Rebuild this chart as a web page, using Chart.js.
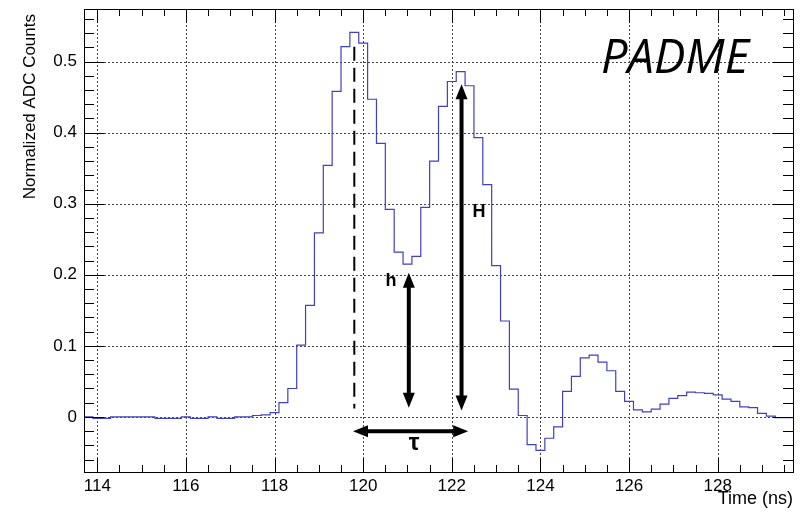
<!DOCTYPE html>
<html>
<head>
<meta charset="utf-8">
<script src="https://cdn.jsdelivr.net/npm/chart.js@4.4.1/dist/chart.umd.min.js"></script>
<style>
  html, body { margin: 0; padding: 0; background: #fff; }
  canvas { display: block; }
</style>
</head>
<body>
<canvas id="pulse" width="803" height="512"></canvas>
<script>
// histogram binning (ns)
const binStart = 113.7;
const binWidth = 0.2;

// normalized ADC counts per bin, 113.8 ... 129.6 ns
const counts = [
  0.000, -0.002, -0.002, 0.000, 0.000, 0.000, 0.000, 0.000, -0.002, -0.002,
  -0.002, 0.000, -0.002, -0.002, 0.000, -0.002, -0.002, 0.000, 0.000,
  0.002, 0.003, 0.006, 0.020, 0.040, 0.101, 0.157, 0.259, 0.354, 0.458,
  0.521, 0.541, 0.526, 0.447, 0.385, 0.292, 0.232, 0.215, 0.226, 0.295,
  0.360, 0.437, 0.472, 0.486, 0.466, 0.393, 0.327, 0.213, 0.135, 0.039,
  0.002, -0.039, -0.047, -0.030, -0.014, 0.036, 0.057, 0.083, 0.087, 0.077,
  0.065, 0.036, 0.022, 0.010, 0.007, 0.011, 0.018, 0.026, 0.030, 0.035,
  0.034, 0.033, 0.031, 0.025, 0.022, 0.014, 0.013, 0.005, 0.001, -0.001,
  -0.001
];

const xRange = [113.7, 129.7];
const yRange = [-0.0775, 0.574];
const xMajor = [114, 116, 118, 120, 122, 124, 126, 128];
const yMajor = [0, 0.1, 0.2, 0.3, 0.4, 0.5];
const yLabels = ["0", "0.1", "0.2", "0.3", "0.4", "0.5"];
const xMinorStep = 0.5;
const yMinorStep = 0.02;

// annotation markers (data units)
const peakTime = 119.8;
const dipTime = 121.03;
const secondPeakTime = 122.22;
const dashedSpan = [0.012, 0.521];
const hSpan = [0.013, 0.203];
const HSpan = [0.009, 0.468];
const tauSpan = [119.77, 122.37];
const tauLevel = -0.020;

// edges for a step drawing
const points = counts.map((v, i) => ({ x: binStart + i * binWidth, y: v }));
points.push({ x: binStart + counts.length * binWidth, y: counts[counts.length - 1] });

function arrow(ctx, x1, y1, x2, y2) {
  const ang = Math.atan2(y2 - y1, x2 - x1);
  const len = Math.hypot(x2 - x1, y2 - y1);
  const head = 15, half = 6;
  ctx.save();
  ctx.translate(x1, y1);
  ctx.rotate(ang);
  ctx.fillStyle = "#000";
  ctx.strokeStyle = "#000";
  ctx.lineWidth = 4;
  ctx.beginPath();
  ctx.moveTo(head - 2, 0);
  ctx.lineTo(len - head + 2, 0);
  ctx.stroke();
  ctx.beginPath();
  ctx.moveTo(0, 0);
  ctx.lineTo(head, -half);
  ctx.lineTo(head, half);
  ctx.closePath();
  ctx.fill();
  ctx.beginPath();
  ctx.moveTo(len, 0);
  ctx.lineTo(len - head, -half);
  ctx.lineTo(len - head, half);
  ctx.closePath();
  ctx.fill();
  ctx.restore();
}

const rootFrame = {
  id: "rootFrame",
  beforeDatasetsDraw(chart) {
    const { ctx, chartArea: a, scales: { x, y } } = chart;
    ctx.save();
    ctx.strokeStyle = "#444";
    ctx.lineWidth = 1;
    ctx.setLineDash([2, 2]);
    xMajor.forEach((v) => {
      const px = Math.round(x.getPixelForValue(v)) + 0.5;
      ctx.beginPath(); ctx.moveTo(px, a.top); ctx.lineTo(px, a.bottom); ctx.stroke();
    });
    yMajor.forEach((v) => {
      const py = Math.round(y.getPixelForValue(v)) + 0.5;
      ctx.beginPath(); ctx.moveTo(a.left, py); ctx.lineTo(a.right, py); ctx.stroke();
    });
    ctx.restore();
  },
  afterDatasetsDraw(chart) {
    const { ctx, chartArea: a, scales: { x, y } } = chart;
    ctx.save();
    ctx.strokeStyle = "#000";
    ctx.lineWidth = 1;
    ctx.setLineDash([]);
    // frame
    ctx.strokeRect(Math.round(a.left) + 0.5, Math.round(a.top) + 0.5,
      Math.round(a.right - a.left), Math.round(a.bottom - a.top));

    // x ticks, bottom and top
    for (let v = Math.ceil(xRange[0] / xMinorStep) * xMinorStep; v <= xRange[1]; v += xMinorStep) {
      const major = Math.abs(v / 2 - Math.round(v / 2)) < 1e-6;
      const len = major ? 14 : 7;
      const px = Math.round(x.getPixelForValue(v)) + 0.5;
      ctx.beginPath();
      ctx.moveTo(px, a.bottom); ctx.lineTo(px, a.bottom - len);
      ctx.moveTo(px, a.top); ctx.lineTo(px, a.top + len);
      ctx.stroke();
    }
    // y ticks, left and right
    for (let i = Math.ceil(yRange[0] / yMinorStep); i * yMinorStep <= yRange[1]; i++) {
      const v = i * yMinorStep;
      const major = i % 5 === 0;
      const len = major ? 20 : 10;
      const py = Math.round(y.getPixelForValue(v)) + 0.5;
      ctx.beginPath();
      ctx.moveTo(a.left, py); ctx.lineTo(a.left + len, py);
      ctx.moveTo(a.right, py); ctx.lineTo(a.right - len, py);
      ctx.stroke();
    }

    // tick labels
    ctx.fillStyle = "#000";
    ctx.font = '17px "Liberation Sans", Arial, sans-serif';
    ctx.textAlign = "center";
    ctx.textBaseline = "middle";
    xMajor.forEach((v) => ctx.fillText(String(v), x.getPixelForValue(v), 486));
    ctx.textAlign = "right";
    yMajor.forEach((v, i) => ctx.fillText(yLabels[i], 77, y.getPixelForValue(v)));

    // axis titles
    ctx.font = '18px "Liberation Sans", Arial, sans-serif';
    ctx.textAlign = "right";
    ctx.fillText("Time (ns)", a.right, 499);
    ctx.save();
    ctx.font = '17px "Liberation Sans", Arial, sans-serif';
    ctx.translate(30, 14);
    ctx.rotate(-Math.PI / 2);
    ctx.textAlign = "right";
    ctx.fillText("Normalized ADC Counts", 0, 0);
    ctx.restore();

    // dashed marker at the first peak
    ctx.save();
    ctx.lineWidth = 2;
    ctx.setLineDash([14, 7]);
    const dx = x.getPixelForValue(peakTime);
    ctx.beginPath();
    ctx.moveTo(dx, y.getPixelForValue(dashedSpan[1]));
    ctx.lineTo(dx, y.getPixelForValue(dashedSpan[0]));
    ctx.stroke();
    ctx.restore();

    // arrows
    arrow(ctx, x.getPixelForValue(dipTime), y.getPixelForValue(hSpan[1]),
      x.getPixelForValue(dipTime), y.getPixelForValue(hSpan[0]));
    arrow(ctx, x.getPixelForValue(secondPeakTime), y.getPixelForValue(HSpan[1]),
      x.getPixelForValue(secondPeakTime), y.getPixelForValue(HSpan[0]));
    arrow(ctx, x.getPixelForValue(tauSpan[0]), y.getPixelForValue(tauLevel),
      x.getPixelForValue(tauSpan[1]), y.getPixelForValue(tauLevel));

    ctx.font = 'bold 18px "Liberation Sans", Arial, sans-serif';
    ctx.textAlign = "center";
    ctx.textBaseline = "middle";
    ctx.fillText("h", 391, 281);
    ctx.fillText("H", 479, 212);
    ctx.font = 'bold 24px "Liberation Sans", Arial, sans-serif';
    ctx.fillText("τ", 414, 443);

    ctx.font = 'italic 47px "Open Sans", "Liberation Sans", sans-serif';
    ctx.textAlign = "left";
    ctx.textBaseline = "alphabetic";
    ctx.fillText("PADME", 601, 73);
    ctx.restore();
  },
};

new Chart(document.getElementById("pulse"), {
  type: "line",
  data: {
    datasets: [
      {
        data: points,
        stepped: "before",
        borderColor: "#4040c4",
        borderWidth: 1.2,
        pointRadius: 0,
        fill: false,
      },
    ],
  },
  options: {
    responsive: false,
    animation: false,
    devicePixelRatio: 1,
    layout: { padding: { left: 84, top: 9, right: 10, bottom: 40 } },
    plugins: { legend: { display: false }, tooltip: { enabled: false } },
    scales: {
      x: { type: "linear", min: xRange[0], max: xRange[1], display: false },
      y: { type: "linear", min: yRange[0], max: yRange[1], display: false },
    },
  },
  plugins: [rootFrame],
});
</script>
</body>
</html>
